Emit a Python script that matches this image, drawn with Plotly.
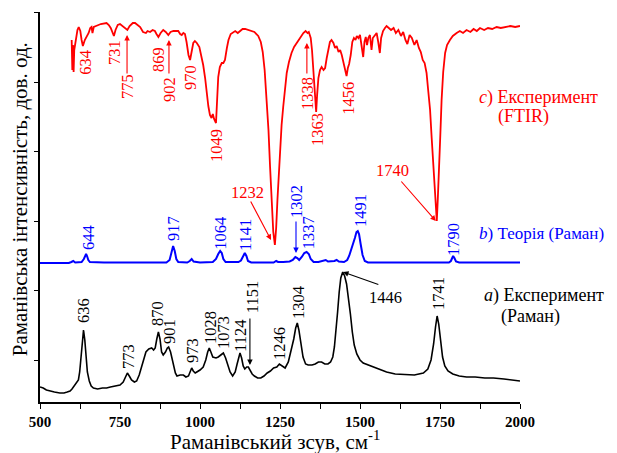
import plotly.graph_objects as go

# ---------------- data (Raman shift, cm^-1 ; intensity, a.u.) ----------------
raman_exp_x = [500, 510, 520, 531, 545, 562, 575, 585, 594, 600, 609, 615, 620, 624, 628, 632, 636, 640, 644, 648,
               654, 660, 667, 680, 695, 708, 720, 735, 750, 760, 767, 773, 779, 786, 795, 802, 810, 818, 825, 831,
               840, 849, 855, 860, 865, 870, 875, 880, 885, 892, 898, 902, 908, 913, 918, 923, 928, 938, 948, 956,
               964, 970, 974, 979, 985, 990, 1000, 1010, 1018, 1024, 1029, 1034, 1040, 1050, 1057, 1065, 1073, 1080,
               1087, 1094, 1102, 1110, 1116, 1121, 1125, 1130, 1135, 1140, 1146, 1151, 1157, 1163, 1170, 1180, 1190,
               1200, 1210, 1220, 1230, 1240, 1248, 1256, 1266, 1276, 1286, 1293, 1299, 1304, 1309, 1315, 1322, 1330,
               1338, 1350, 1360, 1370, 1380, 1390, 1400, 1408, 1415, 1420, 1425, 1430, 1435, 1440, 1446, 1452, 1458,
               1464, 1470, 1476, 1482, 1490, 1500, 1510, 1525, 1542, 1560, 1583, 1610, 1646, 1670, 1698, 1712, 1722,
               1730, 1736, 1741, 1746, 1752, 1758, 1765, 1775, 1790, 1810, 1833, 1860, 1890, 1917, 1950, 1975, 2000]
raman_exp_y = [15, 14, 12, 11, 10, 9, 9, 10, 11, 13, 17, 19, 22, 30, 45, 63, 72, 62, 45, 30,
               21, 16, 14, 13, 14, 14, 15, 16, 17, 20, 25, 29, 26, 22, 20, 21, 27, 35, 44, 50,
               53, 54, 52, 54, 63, 70, 63, 50, 47, 50, 54, 55, 50, 42, 36, 29, 26, 27, 27, 25,
               26, 31, 34, 31, 29, 30, 32, 35, 42, 50, 54, 50, 45, 44, 45, 47, 49, 44,
               36, 30, 26, 30, 38, 46, 49, 44, 36, 33, 35, 35, 31, 28, 26, 24, 24,
               26, 29, 31, 34, 35, 38, 36, 34, 40, 52, 63, 74, 79, 72, 58, 45, 38,
               37, 37, 38, 40, 40, 38, 38, 40, 45, 55, 70, 90, 110, 124, 130, 126, 118,
               104, 88, 70, 57, 48, 42, 39, 37, 35, 33, 30, 28, 27, 27, 29, 33, 42,
               58, 75, 86, 78, 60, 45, 36, 31, 28, 26, 25, 25, 24, 24, 23, 22, 21]

raman_theory_x = [500, 590, 598, 604, 610, 630, 637, 641, 644, 647, 651, 656, 700, 800, 895, 905, 911, 916, 921, 926,
                  932, 960, 968, 974, 980, 1000, 1040, 1050, 1057, 1063, 1068, 1073, 1080, 1120, 1128, 1134, 1140,
                  1145, 1150, 1160, 1230, 1238, 1244, 1260, 1280, 1290, 1298, 1304, 1310, 1318, 1326, 1333, 1340,
                  1346, 1355, 1370, 1385, 1393, 1400, 1410, 1420, 1427, 1434, 1450, 1460, 1466, 1472, 1478, 1484,
                  1489, 1493, 1497, 1502, 1508, 1515, 1525, 1600, 1700, 1778, 1784, 1788, 1791, 1795, 1800, 1810, 2000]
raman_theory_y = [139, 139, 140, 141, 139.5, 140, 143, 147, 148, 146, 142, 140, 139.5, 139.5, 139.5, 142, 150, 156, 151, 143,
                  140, 139.5, 141, 143, 140.5, 139.5, 140, 143, 148, 151, 149, 143, 140, 140, 141.5, 146, 149,
                  146, 141, 139.5, 139.5, 141, 140, 140, 140.5, 142, 145, 144, 142, 145, 149, 150, 148,
                  143, 140, 140, 141, 142, 140.5, 140.5, 141, 142, 140.5, 140, 142, 146, 153, 158, 164,
                  170, 171, 168, 158, 147, 141, 139.5, 139.5, 139.5, 139.5, 141, 145, 146, 144, 140.5, 139.5, 139.5]

ftir_x = [599, 601, 603, 605, 607, 612, 617, 621, 626, 630, 634, 640, 646, 652, 657, 661, 664, 668, 675, 690,
          708, 715, 721, 727, 731, 736, 743, 750, 758, 766, 773, 780, 790, 797, 806, 813, 822, 831, 836, 844,
          852, 859, 864, 870, 877, 885, 893, 901, 908, 917, 925, 932, 938, 943, 948, 953, 958, 964, 969, 974,
          979, 984, 990, 998, 1004, 1010, 1016, 1021, 1026, 1031, 1036, 1040, 1044, 1050, 1054, 1057, 1062, 1068,
          1073, 1078, 1084, 1089, 1096, 1104, 1110, 1118, 1125, 1133, 1141, 1150, 1160, 1170, 1182, 1190, 1196,
          1202, 1208, 1214, 1219, 1224, 1229, 1234, 1238, 1242, 1246, 1250, 1255, 1260, 1266, 1271, 1278, 1286,
          1294, 1302, 1312, 1323, 1330, 1336, 1340, 1346, 1350, 1355, 1359, 1363, 1366, 1370, 1375, 1380, 1386,
          1391, 1396, 1401, 1406, 1411, 1417, 1422, 1427, 1433, 1438, 1443, 1448, 1453, 1458, 1462, 1466, 1471,
          1476, 1481, 1486, 1490, 1495, 1500, 1505, 1510, 1514, 1518, 1522, 1526, 1531, 1536, 1540, 1546, 1552,
          1557, 1562, 1566, 1572, 1578, 1583, 1590, 1597, 1605, 1612, 1620, 1628, 1635, 1642, 1648, 1655, 1662,
          1670, 1677, 1684, 1690, 1696, 1702, 1708, 1713, 1719, 1724, 1729, 1734, 1738, 1740, 1743, 1746, 1748,
          1751, 1755, 1760, 1766, 1772, 1781, 1790, 1802, 1812, 1822, 1833, 1845, 1855, 1865, 1875, 1888, 1900,
          1913, 1927, 1940, 1955, 1970, 1985, 2000]
ftir_y = [362, 332, 357, 330, 352, 364, 372, 375, 371, 362, 356, 362, 365, 369, 374, 375, 369, 375, 376, 378,
          379, 377, 374, 368, 366, 372, 377, 378, 376, 374, 372, 376, 379, 379, 377, 375, 370, 369, 371, 370,
          372, 371, 368, 365, 369, 372, 370, 367, 370, 371, 371, 371, 368, 367, 369, 368, 360, 347, 342, 350,
          359, 361, 359, 355, 347, 337, 324, 309, 296, 287, 284, 288, 283, 279, 302, 325, 335, 339,
          339, 342, 354, 362, 368, 370, 371, 369, 371, 373, 373, 372, 371, 370, 366, 360, 350,
          332, 302, 272, 235, 202, 170, 157, 174, 202, 230, 252, 277, 295, 314, 329, 340, 349,
          355, 359, 364, 369, 371, 369, 370, 364, 352, 330, 307, 290, 307, 324, 332, 335, 332,
          334, 344, 354, 360, 362, 359, 354, 356, 350, 352, 347, 340, 334, 326, 334, 338, 347,
          360, 364, 362, 366, 364, 367, 357, 345, 360, 365, 357, 364, 367, 352, 364, 366, 369,
          360, 349, 364, 371, 374, 376, 374, 372, 374, 369, 372, 366, 370, 362, 358, 367, 364,
          357, 362, 354, 350, 342, 339, 329, 312, 292, 264, 235, 207, 187, 181, 202, 222, 237,
          267, 302, 330, 349, 357, 362, 366, 369, 371, 369, 372, 370, 373, 371, 374, 372, 374,
          373, 375, 374, 375, 376, 375, 376]

x_ticks = [500, 750, 1000, 1250, 1500, 1750, 2000]
y_ticks = [42, 111.5, 181, 250.5, 320, 390]

# peak labels: (text, x, y)
ftir_labels = [("634", 640, 340), ("731", 731, 350), ("775", 772, 315), ("869", 869, 342),
               ("902", 903, 313), ("970", 969, 324), ("1049", 1050, 256), ("1338", 1334, 309),
               ("1363", 1366, 272), ("1456", 1462, 304)]
ftir_hlabels = [("1232", 1147, 210), ("1740", 1603, 232)]
theory_labels = [("644", 650, 164), ("917", 916, 173), ("1064", 1062, 169), ("1141", 1141, 167),
                 ("1302", 1300, 200), ("1337", 1338, 169), ("1491", 1500, 191), ("1790", 1791, 162)]
exp_labels = [("636", 634, 92), ("773", 775, 45), ("870", 866, 88), ("901", 903, 71), ("973", 975, 51),
              ("1028", 1031, 75), ("1073", 1072, 69), ("1124", 1125, 66), ("1151", 1163, 105),
              ("1246", 1247, 58), ("1304", 1306, 100), ("1741", 1744, 108)]
exp_hlabels = [("1446", 1581, 105)]

# arrows: (color, tail_x, tail_y, head_x, head_y)
arrows = [("red", 772, 327, 772, 367), ("red", 903, 327, 903, 362), ("red", 1334, 327, 1334, 359),
          ("red", 1625, 222, 1737, 181), ("red", 1156, 202, 1222, 162),
          ("blue", 1300, 182, 1300, 149),
          ("black", 1156, 85, 1156, 37), ("black", 1562, 117, 1447, 130)]

RED = "#ff0000"
BLUE = "#0000ff"
FONT = "Liberation Serif, Times New Roman, serif"

fig = go.Figure()
fig.add_trace(go.Scatter(x=raman_exp_x, y=raman_exp_y, mode="lines",
                         line=dict(color="black", width=1.6), showlegend=False))
fig.add_trace(go.Scatter(x=raman_theory_x, y=raman_theory_y, mode="lines",
                         line=dict(color=BLUE, width=2), showlegend=False))
fig.add_trace(go.Scatter(x=ftir_x, y=ftir_y, mode="lines",
                         line=dict(color=RED, width=1.8), showlegend=False))

ann = []
for labels, color in ((ftir_labels, RED), (theory_labels, BLUE), (exp_labels, "black")):
    for t, x, y in labels:
        ann.append(dict(x=x, y=y, xref="x", yref="y", text=t, showarrow=False, textangle=-90,
                        font=dict(family=FONT, size=16.5, color=color),
                        xanchor="center", yanchor="middle"))
for labels, color in ((ftir_hlabels, RED), (exp_hlabels, "black")):
    for t, x, y in labels:
        ann.append(dict(x=x, y=y, xref="x", yref="y", text=t, showarrow=False,
                        font=dict(family=FONT, size=16.5, color=color),
                        xanchor="center", yanchor="middle"))
for c, tx, ty, hx, hy in arrows:
    col = {"red": RED, "blue": BLUE, "black": "black"}[c]
    ann.append(dict(x=hx, y=hy, ax=tx, ay=ty, xref="x", yref="y", axref="x", ayref="y",
                    text="", showarrow=True, arrowhead=2, arrowsize=1, arrowwidth=1.1,
                    arrowcolor=col))

series_labels = [("<i>c</i>) Експеримент", 0.9125, 0.782, RED, 18), ("(FTIR)", 0.952, 0.731, RED, 18),
                 ("<i>b</i>) Теорія (Раман)", 0.9125, 0.433, BLUE, 17),
                 ("<i>a</i>) Експеримент", 0.923, 0.274, "black", 18), ("(Раман)", 0.958, 0.218, "black", 18)]
for t, x, y, c, s in series_labels:
    ann.append(dict(x=x, y=y, xref="paper", yref="paper", text=t, showarrow=False, borderpad=0,
                    xanchor="left", yanchor="middle", font=dict(family=FONT, size=s, color=c)))

# axis titles as annotations
ann.append(dict(x=-0.0417, y=0.52, xref="paper", yref="paper", text="Раманівська інтенсивність, дов. од.",
                showarrow=False, textangle=-90, xanchor="center", yanchor="middle", borderpad=0,
                font=dict(family=FONT, size=21, color="black")))
ann.append(dict(x=0.49, y=-0.098, xref="paper", yref="paper", text="Раманівський зсув, см<sup>-1</sup>",
                showarrow=False, xanchor="center", yanchor="middle", borderpad=0,
                font=dict(family=FONT, size=21, color="black")))

# page body has an 8 px margin, so the figure is sized and offset to fit the 617x453 window
fig.update_layout(
    width=609, height=445,
    margin=dict(l=32, r=97, t=4, b=51),
    paper_bgcolor="white", plot_bgcolor="white",
    annotations=ann,
    xaxis=dict(range=[500, 2000], tickvals=x_ticks, ticks="outside", ticklen=5, tickwidth=1.2,
               tickcolor="black", showline=True, linecolor="black", linewidth=1.5, showgrid=False,
               zeroline=False, automargin=False,
               tickfont=dict(family=FONT, size=15, color="black", weight="bold"),
               minor=dict(dtick=125, tick0=500, ticks="outside", ticklen=5, tickwidth=1.2, tickcolor="black")),
    yaxis=dict(range=[0, 390], tickvals=y_ticks, showticklabels=False, ticks="outside", ticklen=4,
               tickwidth=1.2, tickcolor="black", showline=True, linecolor="black", linewidth=1.5,
               showgrid=False, zeroline=False, automargin=False),
)

fig.write_html("out.html")
